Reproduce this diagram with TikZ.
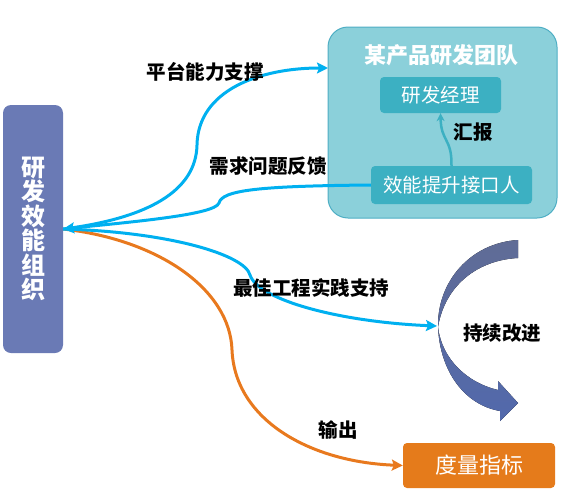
\documentclass[tikz,border=0pt]{standalone}
\usepackage{fontspec}
\setmainfont{Noto Sans CJK SC}
\usepackage{tikz}
\usetikzlibrary{arrows.meta, shapes.geometric}
\definecolor{orgblue}{RGB}{106,122,181}
\definecolor{teamfill}{RGB}{139,208,218}
\definecolor{teamline}{RGB}{78,174,196}
\definecolor{rolefill}{RGB}{60,176,194}
\definecolor{flowblue}{RGB}{0,176,240}
\definecolor{floworange}{RGB}{232,121,30}
\definecolor{metricorange}{RGB}{229,123,27}
\definecolor{looptop}{RGB}{96,108,150}
\definecolor{loopbot}{RGB}{82,105,172}

\begin{document}
\begin{tikzpicture}[x=1pt, y=-1pt,
  lbl/.style={font=\fontsize{19.5}{21}\selectfont\bfseries, inner sep=0pt},
  role/.style={fill=rolefill, rounded corners=4pt, text=white, inner sep=0pt,
               font=\fontsize{19.5}{21}\selectfont},
  flow/.style={line width=3pt, flowblue, -{Stealth[length=11pt, width=11pt, inset=2pt]}}]
  \useasboundingbox (0,0) rectangle (562,493);

  % boxes
  \node[fill=orgblue, rounded corners=8pt, minimum width=60pt, minimum height=248pt,
        text=white, align=center, font=\fontsize{24}{24.5}\selectfont\bfseries]
        (org) at (33,229) {研\\发\\效\\能\\组\\织};
  \node[draw=teamline, line width=1pt, fill=teamfill, rounded corners=20pt,
        minimum width=229pt, minimum height=191pt] (team) at (442.5,122.5) {};
  \node[text=white, font=\fontsize{22}{24}\selectfont\bfseries, inner sep=0pt]
        (teamtitle) at (441,55) {某产品研发团队};
  \node[role, minimum width=121pt, minimum height=36pt] (mgr) at (440.5,95) {研发经理};
  \node[role, minimum width=161pt, minimum height=38pt] (liaison) at (451.5,185) {效能提升接口人};
  \node[fill=metricorange, rounded corners=4pt, text=white, inner sep=0pt,
        minimum width=152pt, minimum height=45pt, font=\fontsize{22}{24}\selectfont]
        (metric) at (479,465.5) {度量指标};

  % continuous improvement arrow
  \fill[top color=looptop, bottom color=loopbot]
    (518,240) .. controls (470,243) and (437,282) .. (438,327)
    .. controls (440,372) and (465,405) .. (500,411) -- (500,421) -- (518,403)
    -- (498,381) -- (498,390) .. controls (468,383) and (442,360) .. (438,327)
    .. controls (445,285) and (478,260) .. (518,258) -- cycle;
  \coordinate (looptip) at (437,326);
  \coordinate (teamin) at (328,68);

  % connectors
  \draw[flow, floworange] (org.east) .. controls (160,240) and (230,290) .. (232,350)
    .. controls (235,420) and (310,462) .. (metric.west);
  \draw[flow] (org.east) .. controls (150,218) and (196,190) .. (197,145)
    .. controls (198,90) and (260,68) .. (teamin);
  \draw[flow] (liaison.west) .. controls (260,186) and (222,190) .. (219,203)
    .. controls (215,215) and (130,222) .. (org.east);
  \draw[flow] (org.east) .. controls (170,232) and (245,255) .. (250,275)
    .. controls (258,300) and (340,322) .. (looptip);
  \draw[line width=2.5pt, rolefill, -{Stealth[length=8pt, width=8pt]}]
    (liaison.north) .. controls (452,138) and (441,142) .. (mgr.south);

  % labels
  \node[lbl] (lplat) at (205,72) {平台能力支撑};
  \node[lbl] (lneed) at (268,166) {需求问题反馈};
  \node[lbl] (lbest) at (311,288) {最佳工程实践支持};
  \node[lbl] (lout) at (338,430) {输出};
  \node[lbl] (lrep) at (473,132) {汇报};
  \node[lbl] (lloop) at (502,333) {持续改进};
\end{tikzpicture}
\end{document}
